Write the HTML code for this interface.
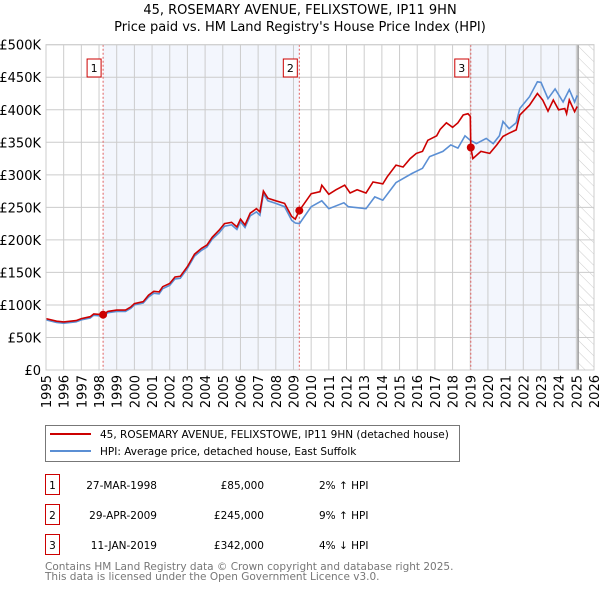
<!DOCTYPE html>
<html><head><meta charset="utf-8"><style>
body{margin:0;background:#fff;font-family:"DejaVu Sans","Liberation Sans",sans-serif;}
#wrap{position:relative;width:600px;height:590px;overflow:hidden;}
text{font-family:"DejaVu Sans","Liberation Sans",sans-serif;}
</style></head><body><div id="wrap">
<svg id="svg" width="600" height="590"></svg>
</div>
<script>
const yTicks=[0,50,100,150,200,250,300,350,400,450,500];
const yTickLabels=["£0","£50K","£100K","£150K","£200K","£250K","£300K","£350K","£400K","£450K","£500K"];
const xTicks=[1995,1996,1997,1998,1999,2000,2001,2002,2003,2004,2005,2006,2007,2008,2009,2010,2011,2012,2013,2014,2015,2016,2017,2018,2019,2020,2021,2022,2023,2024,2025,2026];
const redYears=[1995,1995.6,1996,1996.7,1997,1997.5,1997.7,1998.23,1998.5,1999,1999.5,1999.8,2000,2000.5,2000.8,2001.1,2001.4,2001.6,2002,2002.3,2002.6,2003,2003.4,2003.8,2004.1,2004.4,2004.8,2005.1,2005.5,2005.8,2006,2006.26,2006.55,2006.9,2007.1,2007.3,2007.55,2008,2008.5,2008.9,2009.1,2009.33,2010,2010.5,2010.6,2011,2011.4,2011.9,2012.2,2012.6,2013.1,2013.5,2014.05,2014.3,2014.8,2015.2,2015.6,2015.95,2016.3,2016.6,2017.1,2017.3,2017.65,2018,2018.3,2018.6,2018.87,2019.0,2019.03,2019.15,2019.6,2020.1,2020.5,2020.85,2021.2,2021.6,2021.8,2022.35,2022.8,2023.1,2023.4,2023.7,2024,2024.35,2024.45,2024.6,2024.9,2025.05];
const redValues=[79,75,74,76,79,82,86,85,90,92,92,97,102,105,115,121,120,128,133,143,144,159,178,187,192,204,215,225,227,220,232,223,241,248,243,275,264,260,256,236,232,245,271,274,284,270,277,284,272,277,272,289,286,297,315,312,325,333,336,353,360,370,380,373,380,392,394,390,342,325,336,333,346,359,364,369,392,407,425,415,398,415,400,402,394,415,397,405];
const blueYears=[1995,1995.6,1996,1996.7,1997,1997.5,1997.7,1998.23,1998.5,1999,1999.5,1999.8,2000,2000.5,2000.8,2001.1,2001.4,2001.6,2002,2002.3,2002.6,2003,2003.4,2003.8,2004.1,2004.4,2004.8,2005.1,2005.5,2005.8,2006,2006.26,2006.55,2006.9,2007.1,2007.3,2007.55,2008,2008.5,2008.9,2009.1,2009.34,2010,2010.6,2011,2011.85,2012.1,2013.1,2013.6,2014.05,2014.8,2015.7,2016.3,2016.7,2017.45,2017.9,2018.3,2018.7,2019.0,2019.35,2019.9,2020.3,2020.65,2020.85,2021.2,2021.6,2021.8,2022.35,2022.8,2023.0,2023.4,2023.8,2024.25,2024.6,2024.9,2025.05];
const blueValues=[77,73,72,74,77,80,84,83,88,90,90,95,100,103,112,118,117,125,130,140,141,156,175,184,189,201,211,221,223,216,228,219,237,243,238,271,260,256,251,230,226,225,251,260,248,257,251,248,266,261,288,302,310,328,336,346,341,360,353,348,356,348,360,382,371,380,402,420,443,442,417,432,412,431,412,422];
const sales=[{n:"1",y:1998.23,v:85},{n:"2",y:2009.33,v:245},{n:"3",y:2019.03,v:342}];
const X0=46,X1=594,Y0=370,Y1=44.7;
function xs(y){return X0+(y-1995)*(X1-X0)/31;}
function ys(v){return Y0-v*(Y0-Y1)/500;}
const svg=document.getElementById('svg');const NS='http://www.w3.org/2000/svg';
function mk(t,a,p){const e=document.createElementNS(NS,t);for(const k in a)e.setAttribute(k,a[k]);(p||svg).appendChild(e);return e;}
let t=mk('text',{x:300,y:14,'text-anchor':'middle','font-size':13,fill:'#000'});t.textContent="45, ROSEMARY AVENUE, FELIXSTOWE, IP11 9HN";

t=mk('text',{x:300,y:31,'text-anchor':'middle','font-size':13,fill:'#000'});t.textContent="Price paid vs. HM Land Registry's House Price Index (HPI)";

let sh=mk('rect',{x:xs(1998.23),y:Y1,width:xs(2009.33)-xs(1998.23),height:Y0-Y1,fill:'#eef2fc',opacity:0.7});

sh=mk('rect',{x:xs(2019.03),y:Y1,width:xs(2025.1)-xs(2019.03),height:Y0-Y1,fill:'#eef2fc',opacity:0.7});

const defs=mk('defs',{});const pat=mk('pattern',{id:'h',width:8,height:8,patternUnits:'userSpaceOnUse',patternTransform:'rotate(-45)'},defs);
mk('line',{x1:0,y1:0,x2:0,y2:8,stroke:'#ccc','stroke-width':1},pat);
let hr=mk('rect',{x:xs(2025.1),y:Y1,width:X1-xs(2025.1),height:Y0-Y1,fill:'url(#h)'});

yTicks.forEach((v,i)=>{const l=mk('line',{x1:X0,x2:X1,y1:ys(v),y2:ys(v),stroke:'#ccc','stroke-width':1});

const tx=mk('text',{x:X0-5,y:ys(v)+5,'text-anchor':'end','font-size':13,fill:'#000'});tx.textContent=yTickLabels[i];
});
xTicks.forEach(yr=>{const l=mk('line',{x1:xs(yr),x2:xs(yr),y1:Y1,y2:Y0,stroke:'#ccc','stroke-width':1});

const tx=mk('text',{x:0,y:0,'text-anchor':'end','font-size':13,fill:'#000',transform:`translate(${xs(yr)+5},${Y0+5}) rotate(-90)`});tx.textContent=yr;
});
let vl=mk('line',{x1:xs(2025.1),x2:xs(2025.1),y1:Y1,y2:Y0,stroke:'#999','stroke-width':1.5});

sales.forEach(s=>{const l=mk('line',{x1:xs(s.y),x2:xs(s.y),y1:Y1,y2:Y0,stroke:'#e06060','stroke-width':1,'stroke-dasharray':'2,2'});
});
function path(xa,va){return xa.map((y,i)=>(i?'L':'M')+xs(y).toFixed(1)+','+ys(va[i]).toFixed(1)).join('');}
let bp=mk('path',{d:path(blueYears,blueValues),fill:'none',stroke:'#5b8fd4','stroke-width':1.6});

let rp=mk('path',{d:path(redYears,redValues),fill:'none',stroke:'#cc0000','stroke-width':1.6});

sales.forEach(s=>{const c=mk('circle',{cx:xs(s.y),cy:ys(s.v),r:4,fill:'#cc0000'});

const g=mk('g',{});
mk('rect',{x:xs(s.y)-16,y:59,width:14,height:18,fill:'#fff',stroke:'#cc0000','stroke-width':1},g);
const tx=mk('text',{x:xs(s.y)-9,y:72,'text-anchor':'middle','font-size':11,fill:'#000'},g);tx.textContent=s.n;});
let ax=mk('rect',{x:X0,y:Y1,width:X1-X0,height:Y0-Y1,fill:'none',stroke:'#ccc'});

const lg=mk('g',{});
mk('rect',{x:45.5,y:425.5,width:414,height:36,fill:'#fff',stroke:'#777'},lg);
mk('line',{x1:50,x2:91,y1:434,y2:434,stroke:'#cc0000','stroke-width':2},lg);
let lt=mk('text',{x:100,y:438,'font-size':10.5,fill:'#000'},lg);lt.textContent="45, ROSEMARY AVENUE, FELIXSTOWE, IP11 9HN (detached house)";
mk('line',{x1:50,x2:91,y1:451,y2:451,stroke:'#5b8fd4','stroke-width':2},lg);
lt=mk('text',{x:100,y:455,'font-size':10.5,fill:'#000'},lg);lt.textContent="HPI: Average price, detached house, East Suffolk";
const rows=[["1","27-MAR-1998","£85,000","2% ↑ HPI"],["2","29-APR-2009","£245,000","9% ↑ HPI"],["3","11-JAN-2019","£342,000","4% ↓ HPI"]];
rows.forEach((r,i)=>{const y=487+i*30;const g=mk('g',{});
mk('rect',{x:45.5,y:y-12.5,width:14,height:20,fill:'#fff',stroke:'#cc0000'},g);
let a=mk('text',{x:52.5,y:y+2,'text-anchor':'middle','font-size':10.5},g);a.textContent=r[0];
a=mk('text',{x:157,y:y+2,'text-anchor':'end','font-size':10.5},g);a.textContent=r[1];
a=mk('text',{x:264,y:y+2,'text-anchor':'end','font-size':10.5},g);a.textContent=r[2];
a=mk('text',{x:319,y:y+2,'font-size':10.5},g);a.textContent=r[3];});
let f=mk('text',{x:45,y:570,'font-size':10.5,fill:'#777'});f.textContent="Contains HM Land Registry data © Crown copyright and database right 2025.";

f=mk('text',{x:45,y:580,'font-size':10.5,fill:'#777'});f.textContent="This data is licensed under the Open Government Licence v3.0.";

</script></body></html>
